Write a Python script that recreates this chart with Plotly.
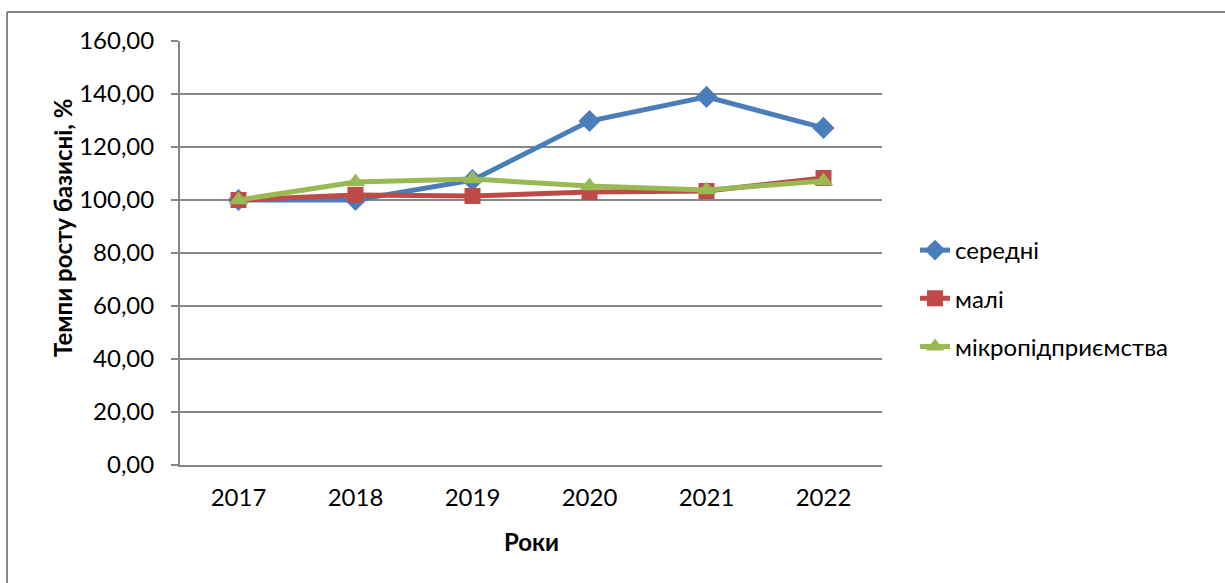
import plotly.graph_objects as go

years = ["2017", "2018", "2019", "2020", "2021", "2022"]
seredni = [100.0, 100.0, 107.5, 129.8, 138.9, 127.2]
mali = [100.0, 101.9, 101.5, 103.0, 103.4, 108.3]
mikro = [100.0, 106.8, 107.9, 105.3, 103.8, 107.2]
names = ["середні", "малі", "мікропідприємства"]
yticks = [0, 20, 40, 60, 80, 100, 120, 140, 160]

W, H = 1225, 583
L, R, T, B = 180, 882, 41, 465
FONT = "Lato"
FS = 24

fig = go.Figure()
fig.add_trace(go.Scatter(x=years, y=seredni, name=names[0], mode="lines+markers",
                         legendgroup="a",
                         line=dict(color="#4A7EBB", width=5),
                         marker=dict(symbol="diamond", size=17, color="#4A7EBB")))
fig.add_trace(go.Scatter(x=years, y=mali, name=names[1], mode="lines+markers",
                         legendgroup="b",
                         line=dict(color="#BE4B48", width=5),
                         marker=dict(symbol="square", size=16, color="#BE4B48")))
fig.add_trace(go.Scatter(x=years, y=mikro, name=names[2], mode="lines+markers",
                         legendgroup="c",
                         line=dict(color="#98B954", width=5),
                         marker=dict(symbol="triangle-up", size=17, color="#98B954")))

def px(x):
    return (x - L) / (R - L)

def py(y):
    return (B - y) / (B - T)

fig.update_layout(
    width=W, height=H,
    margin=dict(l=L, r=W - R, t=T, b=H - B, pad=0),
    paper_bgcolor="white", plot_bgcolor="white",
    separators=", ",
    font=dict(family=FONT, size=FS, color="black"),
    showlegend=True,
    legend=dict(x=px(915), y=py(228), xanchor="left", yanchor="top",
                font=dict(family=FONT, size=FS, color="black"),
                tracegroupgap=14, itemsizing="trace", bgcolor="rgba(0,0,0,0)"),
    xaxis=dict(type="category", showgrid=False, showline=True, linecolor="#868686",
               linewidth=2, ticks="", tickfont=dict(family=FONT, size=FS),
               ticklabelstandoff=10,
               range=[-0.5, 5.5], fixedrange=True),
    yaxis=dict(range=[0, 160], tickvals=yticks, tickformat=".2f", showgrid=True,
               gridcolor="#868686", gridwidth=2, showline=True, linecolor="#868686",
               linewidth=2, ticks="outside", ticklen=7, tickcolor="#868686",
               tickwidth=2, zeroline=False, tickfont=dict(family=FONT, size=FS),
               ticklabelstandoff=12,
               fixedrange=True),
    annotations=[
        dict(text="<b>Роки</b>", x=px(531), y=py(541), xref="paper", yref="paper",
             xanchor="center", yanchor="middle",
             showarrow=False, font=dict(family=FONT, size=FS)),
        dict(text="<b>Темпи росту базисні, %</b>", x=px(62), y=py(228), xref="paper",
             yref="paper", showarrow=False, textangle=-90,
             xanchor="center", yanchor="middle",
             font=dict(family=FONT, size=FS)),
    ],
    shapes=[
        dict(type="line", xref="paper", yref="paper", x0=px(7), x1=px(1240),
             y0=py(12), y1=py(12), line=dict(color="#868686", width=2)),
        dict(type="line", xref="paper", yref="paper", x0=px(7), x1=px(7),
             y0=py(12), y1=py(600), line=dict(color="#868686", width=2)),
    ],
)

fig.write_html("out.html", config={"displayModeBar": False},
               post_script="document.body.style.margin='0px';")
